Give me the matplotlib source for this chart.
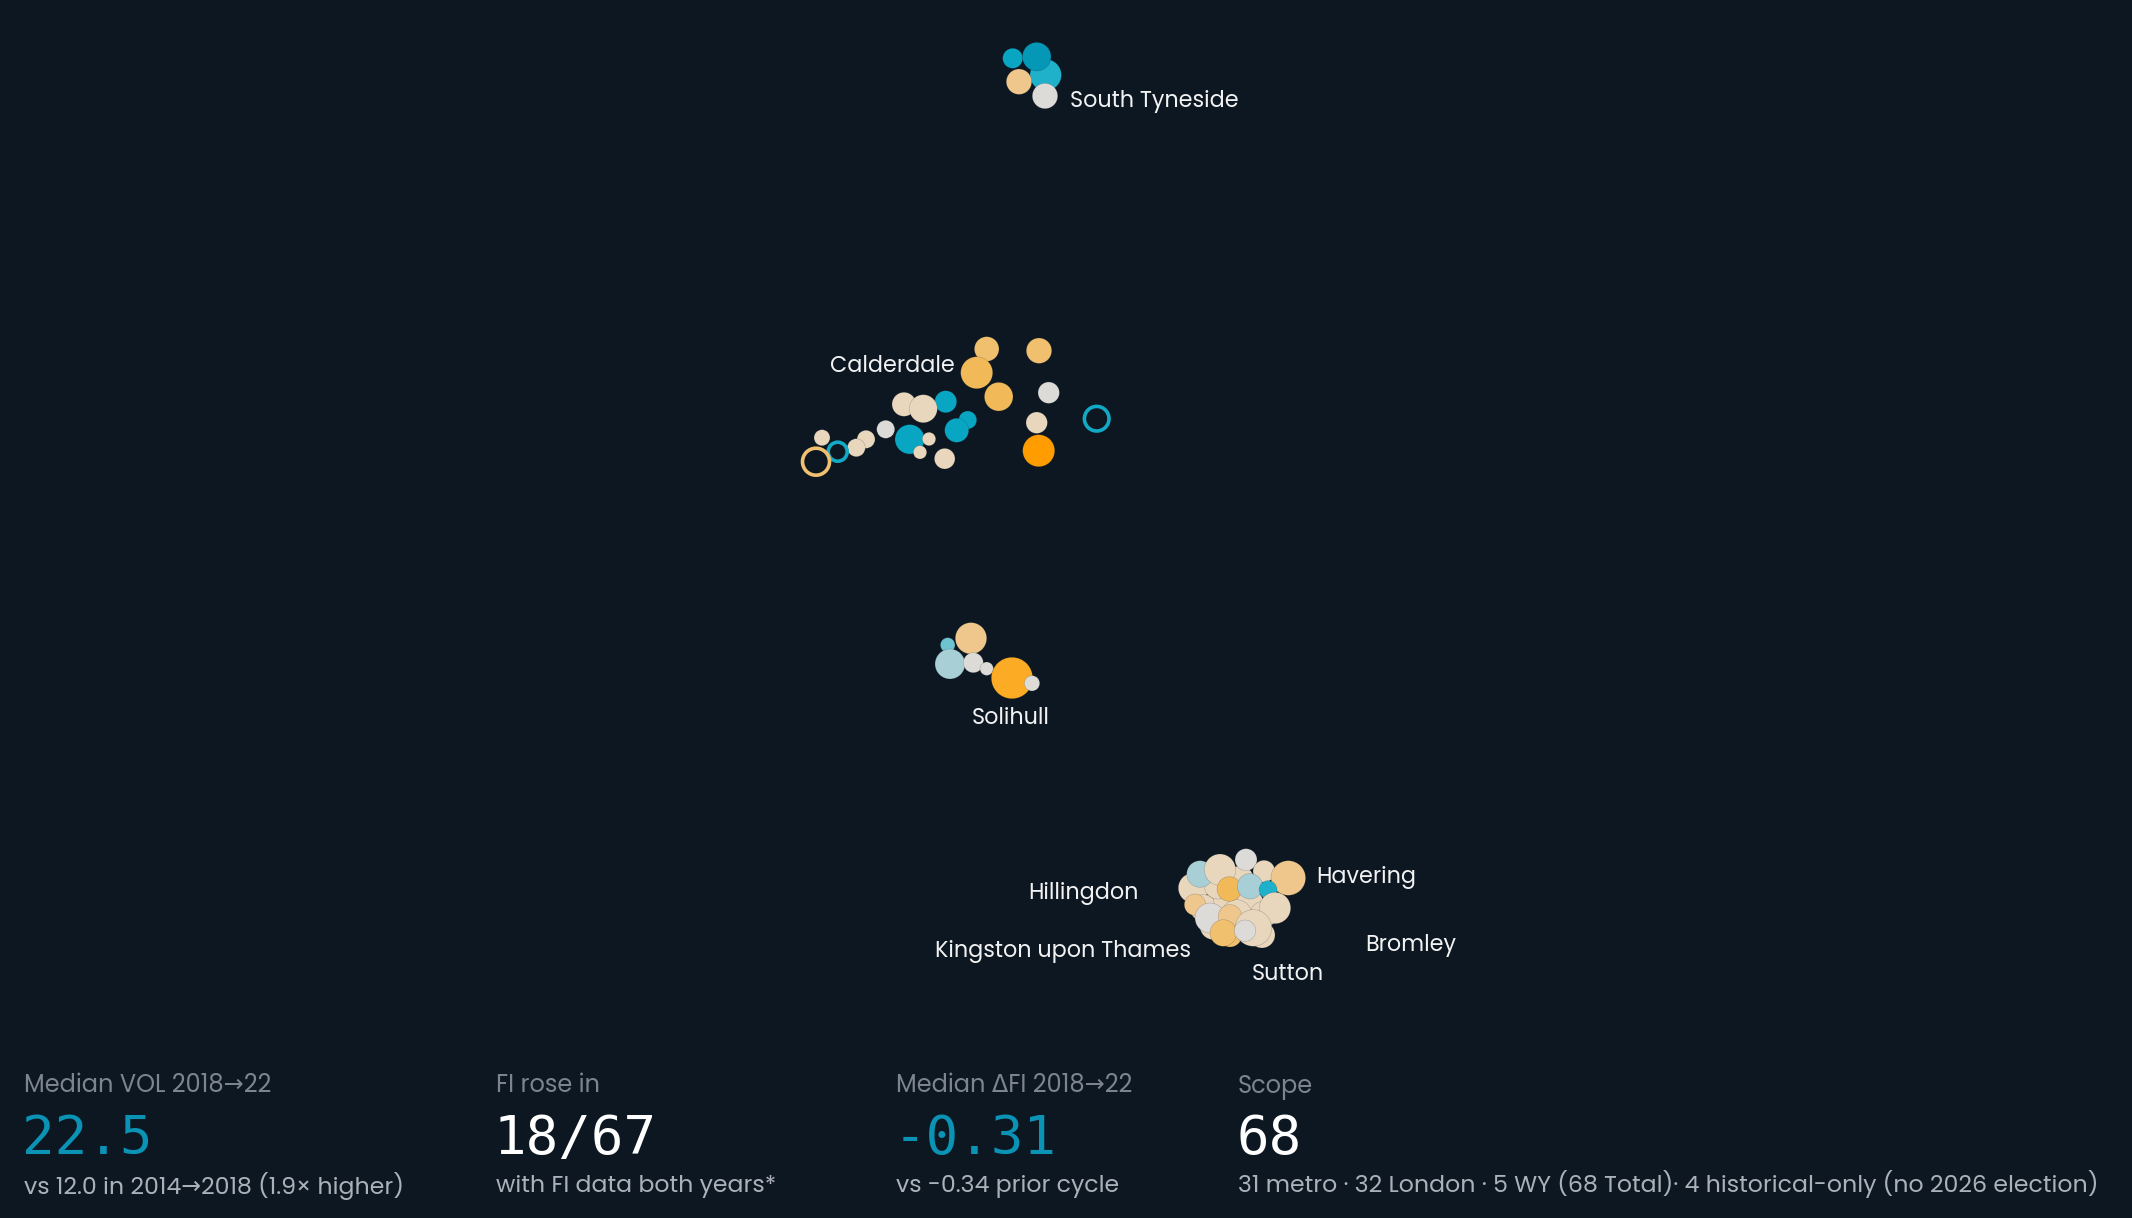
import matplotlib
matplotlib.use('Agg')
import matplotlib.pyplot as plt
import matplotlib.font_manager as fm
import matplotlib.patheffects as pe

W, H, DPI = 2132, 1218, 100
BG = '#0c1722'

# ---------------- data: bubbles (layout position in px space, radius px, colour key)
bub_x = [
    # South Tyneside
    1045.7, 1036.7, 1012.7, 1019.0, 1045.0,
    # Calderdale
    986.7, 1039.0, 976.7, 998.7, 1048.7, 945.7, 904.0, 923.3, 967.7, 956.7,
    1036.7, 1096.7, 885.7, 909.7, 929.0, 920.0, 944.7, 1038.7, 866.0, 856.3,
    822.0, 837.7, 816.0,
    # Solihull
    947.7, 971.0, 950.0, 973.3, 986.7, 1012.0, 1032.0,
    # London
    1240.0, 1215.0, 1262.0, 1230.0,
    1193.3, 1203.3, 1228.3, 1250.0, 1236.7, 1213.3, 1263.3, 1240.0, 1218.0,
    1200.0, 1220.0, 1246.0, 1264.0, 1288.3, 1229.3, 1250.0, 1268.0, 1195.0,
    1275.0, 1210.0, 1230.0, 1223.3, 1253.3, 1245.0,
]
bub_y = [
    75.0, 56.7, 58.3, 81.7, 96.0,
    349.0, 350.7, 372.7, 396.7, 392.7, 401.7, 404.3, 408.7, 420.0, 430.3,
    422.7, 418.7, 429.3, 439.3, 439.0, 452.3, 458.7, 450.7, 439.3, 447.7,
    437.7, 451.7, 461.7,
    645.0, 638.3, 664.0, 662.7, 668.7, 678.0, 683.3,
    900.0, 905.0, 935.0, 935.0,
    888.0, 908.0, 898.0, 903.0, 914.7, 926.3, 914.7, 880.0, 885.0,
    874.0, 869.7, 859.7, 871.3, 878.0, 889.0, 886.3, 889.7, 904.7,
    908.0, 918.0, 916.3, 933.0, 928.0, 930.7,
]
bub_r = [
    15.7, 14.3, 10.0, 12.7, 12.7,
    12.3, 12.7, 16.0, 14.3, 10.7, 11.0, 12.0, 14.0, 9.0, 12.0,
    10.7, 12.3, 9.0, 14.7, 6.7, 6.7, 10.3, 16.0, 9.0, 9.0,
    8.0, 9.5, 13.5,
    7.3, 15.7, 15.0, 10.0, 6.7, 20.7, 7.7,
    14.0, 13.0, 13.0, 12.0,
    15.0, 13.3, 15.0, 13.3, 15.0, 13.3, 13.3, 14.0, 14.0,
    13.3, 15.7, 11.0, 11.0, 17.3, 12.3, 12.7, 9.0, 10.7,
    15.7, 15.0, 11.7, 13.3, 18.3, 10.7,
]
bub_c = [
    'teal_lt', 'teal_dk', 'teal', 'tan', 'grey',
    'amber2', 'amber2', 'amber', 'amber', 'grey', 'teal', 'beige', 'beige', 'teal', 'teal',
    'beige', 'ring_teal', 'grey', 'teal', 'beige', 'beige', 'beige', 'orange', 'beige', 'beige',
    'beige', 'ring_teal', 'ring_amber',
    'blue2', 'tan', 'blue', 'grey', 'grey', 'gold', 'grey',
    'beige', 'tan', 'beige', 'amber2',
    'beige', 'beige', 'beige', 'beige', 'beige', 'beige', 'beige', 'beige', 'beige',
    'blue', 'beige', 'grey', 'beige', 'tan', 'amber', 'blue', 'teal_lt', 'tan',
    'beige', 'grey', 'tan', 'amber2', 'beige', 'grey',
]
palette = {
    'teal': '#09a6c3', 'teal_dk': '#0497b6', 'teal_lt': '#1fb1ca',
    'tan': '#efc78c', 'amber': '#f1b957', 'amber2': '#f0c06e',
    'orange': '#ff9c00', 'gold': '#fbab24', 'beige': '#e8d6bd',
    'grey': '#dddbd7', 'blue': '#a8cfd6', 'blue2': '#6ec3d1',
    'ring_teal': '#12a9c5', 'ring_amber': '#f0c070',
}

# cluster labels
lab_text = ['South Tyneside', 'Calderdale', 'Solihull', 'Havering', 'Hillingdon',
            'Kingston upon Thames', 'Bromley', 'Sutton']
lab_x = [1070, 830, 972, 1316, 1028, 935, 1365, 1252]
lab_y = [101.5, 366, 718.5, 877.5, 893.5, 951.5, 945.5, 974.5]

# stat cards
stat_titles = ['Median VOL 2018\u219222', 'FI rose in', 'Median \u0394FI 2018\u219222', 'Scope']
stat_values = ['22.5', '18/67', '-0.31', '68']
stat_subs = ['vs 12.0 in 2014\u21922018 (1.9\u00d7 higher)', 'with FI data both years*',
             'vs -0.34 prior cycle',
             '31 metro \u00b7 32 London \u00b7 5 WY (68 Total)\u00b7 4 historical-only (no 2026 election)']
stat_value_colors = ['#0a93b5', '#ffffff', '#0a93b5', '#ffffff']
stat_x = [24, 496, 896, 1238]

# ---------------- fonts
avail = {}
for f in fm.fontManager.ttflist:
    avail.setdefault(f.name, []).append(f)
static_regular = lambda n: any(f.weight in (400, 'normal', 'regular') and f.style == 'normal'
                               and '[' not in f.fname for f in avail.get(n, []))
if static_regular('Montserrat'):
    FONT, FX = ['Montserrat', 'DejaVu Sans'], None
elif static_regular('Poppins'):
    FONT, FX = ['Poppins', 'DejaVu Sans'], None
else:
    FONT, FX = ['Montserrat', 'DejaVu Sans'] if 'Montserrat' in avail else ['Open Sans', 'DejaVu Sans'], 'stroke'


def fx(color, w):
    if FX is None:
        return None
    return [pe.withStroke(linewidth=w, foreground=color)]

# ---------------- figure
fig = plt.figure(figsize=(W / DPI, H / DPI), dpi=DPI, facecolor=BG)
ax = fig.add_axes([0, 0, 1, 1])
ax.set_facecolor(BG)
ax.set_xlim(0, W)
ax.set_ylim(H, 0)
ax.axis('off')

sizes, fcs, ecs, lws = [], [], [], []
for r, c in zip(bub_r, bub_c):
    col = palette[c]
    sizes.append((2 * r * 72 / DPI) ** 2)
    if c.startswith('ring'):
        fcs.append('none')
        ecs.append(col)
        lws.append(2.6)
    else:
        fcs.append(col)
        ecs.append('#0c172255')
        lws.append(0.3)
ax.scatter(bub_x, bub_y, s=sizes, facecolors=fcs, edgecolors=ecs, linewidths=lws, zorder=3)

for t, x, y in zip(lab_text, lab_x, lab_y):
    ax.text(x, y, t, color='#f2f2f2', fontsize=16, family=FONT, ha='left', va='center',
            zorder=5, path_effects=fx('#f2f2f2', 0.8))

for i in range(4):
    ax.text(stat_x[i], 1086.5, stat_titles[i], color='#7b848f', fontsize=17.3, family=FONT,
            ha='left', va='center', path_effects=fx('#7b848f', 0.5))
    ax.text(stat_x[i] - 2, 1139, stat_values[i], color=stat_value_colors[i], fontsize=39,
            family=['DejaVu Sans Mono'], ha='left', va='center')
    ax.text(stat_x[i], 1186.5 if i < 3 else 1184.5, stat_subs[i], color='#aab1b9', fontsize=17,
            family=FONT, ha='left', va='center', path_effects=fx('#aab1b9', 0.6))

fig.savefig('out.png', dpi=DPI, facecolor=BG)
